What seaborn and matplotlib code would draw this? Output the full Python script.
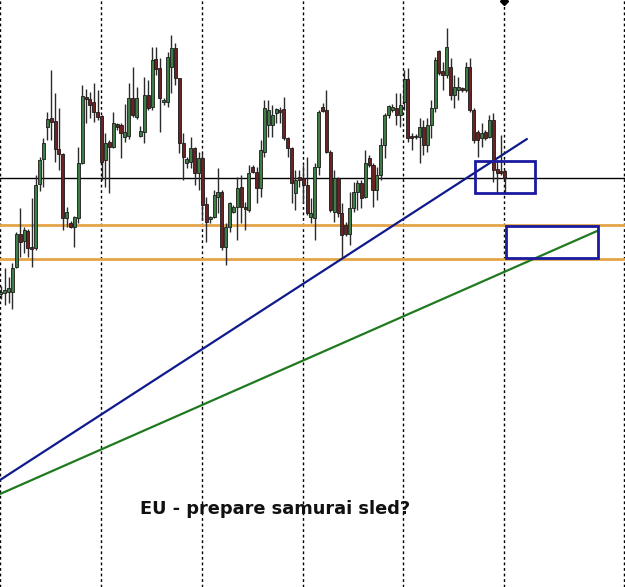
import numpy as np
import pandas as pd
import matplotlib
matplotlib.use("Agg")
import matplotlib.pyplot as plt
import seaborn as sns

# ---- candle data (vertical values, screen rows: smaller = higher price)
y_open = [294, 293, 292, 292, 267, 234, 241, 231, 247, 248, 184, 159, 127, 118, 121, 149, 154, 218, 223, 227,
          218, 163, 97, 99, 102, 112, 116, 160, 142, 147, 124, 125, 137, 136, 98, 117, 136, 132, 95, 107,
          59, 68, 102, 102, 67, 48, 78, 143, 163, 162, 148, 173, 158, 204, 219, 217, 197, 192, 247, 227,
          212, 207, 187, 207, 210, 167, 172, 188, 152, 125, 125, 113, 110, 109, 138, 148, 193, 177, 178, 185,
          217, 218, 167, 107, 110, 152, 212, 178, 213, 225, 234, 208, 192, 183, 197, 158, 165, 190, 175, 145,
          115, 110, 108, 115, 102, 79, 136, 137, 137, 127, 145, 125, 108, 51, 71, 75, 67, 95, 90, 88,
          90, 67, 110, 132, 138, 132, 137, 120, 169, 171, 171]
y_high = [286, 268, 277, 263, 232, 208, 227, 229, 198, 175, 157, 138, 112, 70, 93, 108, 153, 207, 221, 216,
          147, 85, 89, 92, 83, 90, 115, 133, 140, 112, 123, 123, 104, 83, 67, 87, 126, 77, 80, 47,
          47, 58, 98, 52, 35, 43, 78, 133, 157, 137, 147, 152, 153, 197, 216, 190, 168, 190, 223, 202,
          205, 177, 175, 202, 165, 165, 167, 140, 100, 100, 105, 108, 107, 97, 137, 147, 170, 170, 165, 157,
          198, 163, 110, 103, 90, 150, 170, 177, 203, 222, 192, 182, 180, 180, 150, 155, 163, 167, 138, 113,
          105, 104, 93, 93, 70, 68, 133, 134, 118, 120, 118, 100, 57, 50, 62, 28, 58, 75, 77, 87,
          62, 58, 108, 130, 123, 130, 115, 113, 160, 135, 170]
y_low = [299, 305, 303, 309, 268, 257, 253, 257, 267, 250, 191, 187, 140, 140, 162, 170, 230, 227, 228, 247,
         223, 164, 123, 118, 122, 120, 180, 187, 193, 148, 130, 158, 142, 139, 117, 119, 137, 143, 110, 110,
         75, 132, 105, 107, 93, 85, 153, 180, 168, 168, 185, 190, 220, 242, 223, 218, 213, 250, 265, 232,
         213, 240, 223, 230, 212, 173, 203, 197, 157, 137, 137, 123, 123, 140, 157, 203, 210, 187, 203, 215,
         223, 240, 175, 112, 153, 212, 222, 217, 258, 236, 245, 212, 210, 208, 198, 167, 207, 200, 180, 158,
         118, 112, 125, 127, 110, 142, 150, 139, 163, 155, 152, 138, 112, 75, 90, 78, 100, 108, 100, 92,
         92, 112, 143, 157, 147, 140, 138, 182, 193, 175, 193]
y_close = [292, 290, 288, 268, 234, 242, 230, 248, 249, 185, 160, 143, 119, 122, 149, 154, 218, 212, 227, 217,
           163, 96, 99, 105, 112, 117, 162, 143, 147, 123, 127, 133, 132, 98, 115, 98, 131, 95, 108, 60,
           69, 98, 100, 57, 48, 78, 143, 157, 159, 148, 173, 158, 205, 222, 217, 195, 192, 247, 227, 203,
           207, 188, 207, 209, 173, 172, 188, 150, 108, 110, 115, 109, 112, 138, 148, 183, 180, 180, 185, 213,
           213, 167, 112, 111, 152, 210, 178, 213, 235, 234, 208, 192, 183, 198, 163, 165, 190, 175, 145, 115,
           106, 107, 115, 105, 79, 138, 138, 136, 127, 145, 125, 108, 60, 73, 75, 47, 95, 87, 87, 90,
           67, 110, 140, 140, 133, 138, 120, 170, 173, 173, 178]

# reference levels (screen rows)
black_level = [178]
orange_levels = [225, 259]
session_breaks = [0, 26, 52, 78, 104, 130]

# trend lines: (bar index, row) endpoints
blue_x, blue_y = [-0.2, 135.7], [480, 139]
green_x, green_y = [-0.2, 153.8], [494, 231]

# boxes: x0, x1 (bar index), y0, y1 (rows)
boxes = [(122.3, 137.8, 161, 193), (130.3, 154.0, 226, 258)]

title_text = "EU - prepare samurai sled?"

df = pd.DataFrame({"o": y_open, "h": y_high, "l": y_low, "c": y_close})
df["i"] = np.arange(len(df))

sns.set_theme(style="white")
plt.rcParams["font.family"] = ["DejaVu Sans"]

fig = plt.figure(figsize=(6.25, 5.87), dpi=100)
ax = fig.add_axes([0, 0, 1, 1])
ax.set_xlim(-0.21, 161.0)
ax.set_ylim(587, 0)
ax.axis("off")

# session separators
for xb in session_breaks:
    ax.axvline(xb - 0.15, color="black", lw=1.0, ls=(0, (2, 2)), zorder=1)
ax.axvline(160.75, color="black", lw=1.0, ls=(0, (2, 2)), zorder=1)

# horizontal levels
for yl in black_level:
    ax.axhline(yl, color="black", lw=1.0, zorder=2)
for yl in orange_levels:
    ax.axhline(yl, color="#E3A548", lw=2.0, zorder=2)

# trend lines via seaborn
sns.lineplot(x=blue_x, y=blue_y, ax=ax, color="#0F1A8C", lw=1.6, zorder=3)
sns.lineplot(x=green_x, y=green_y, ax=ax, color="#1F7A1F", lw=1.6, zorder=3)

# candles
ax.vlines(df["i"], df["h"], df["l"], color="#2b2b2b", lw=1.0, zorder=4)
bull = df["c"] < df["o"]
bottom = np.minimum(df["o"], df["c"])
height = np.maximum(np.abs(df["o"] - df["c"]), 1.2)
colors = np.where(bull, "#3E7E45", "#6B2222")
ax.bar(df["i"], height, bottom=bottom, width=0.78, color=colors,
       edgecolor="#1a1a1a", linewidth=0.6, zorder=5)

# boxes
for x0, x1, y0, y1 in boxes:
    ax.add_patch(plt.Rectangle((x0, y0), x1 - x0, y1 - y0, fill=False,
                               edgecolor="#1A1AA0", lw=2.0, zorder=6))

# top marker
ax.plot([session_breaks[-1] - 0.15], [1], marker="D", color="black", ms=4, zorder=7, clip_on=False)

ax.text(70.8, 509, title_text, fontsize=12.8, fontweight="bold", color="#111111",
        ha="center", va="center", zorder=8)

fig.savefig("out.png", dpi=100)
